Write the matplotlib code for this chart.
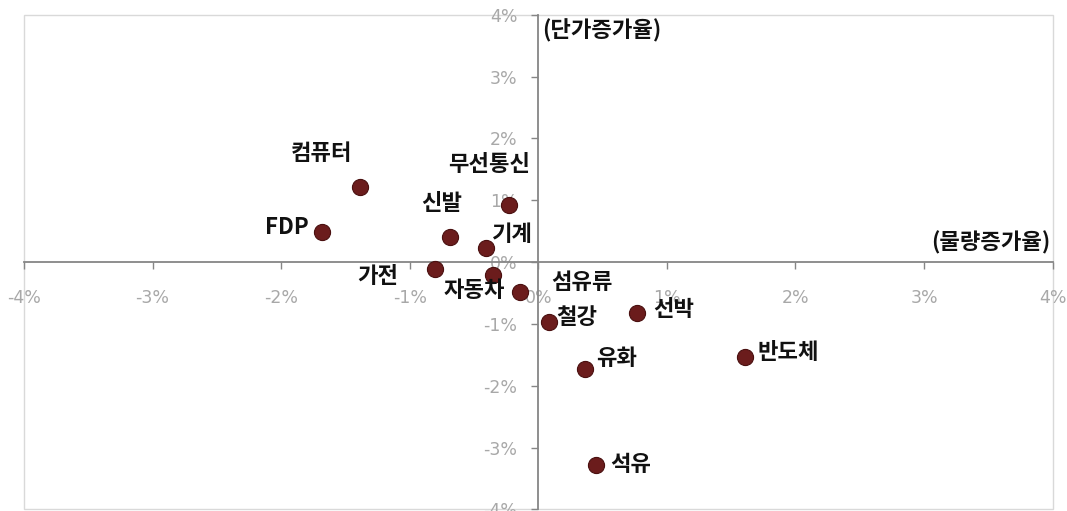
import matplotlib.pyplot as plt
from matplotlib.patches import Rectangle
from matplotlib.ticker import FuncFormatter

plt.rcParams['font.family'] = ['Noto Sans CJK KR', 'DejaVu Sans']

# 품목별 물량/단가 증가율 (%)
items = ['컴퓨터', 'FDP', '무선통신', '신발', '기계', '가전', '자동차',
         '섬유류', '철강', '선박', '유화', '반도체', '석유']
qty = [-1.385, -1.68, -0.23, -0.69, -0.41, -0.80, -0.35,
       -0.14, 0.08, 0.77, 0.36, 1.61, 0.45]
price = [1.21, 0.49, 0.93, 0.40, 0.23, -0.11, -0.20,
         -0.49, -0.97, -0.82, -1.73, -1.53, -3.28]

# 라벨 위치 (점 기준 픽셀 오프셋, 정렬)
offsets = {
    '컴퓨터': (-39, 34, 'center'),
    'FDP': (-14, 4, 'right'),
    '무선통신': (-20, 40, 'center'),
    '신발': (-8, 34, 'center'),
    '기계': (6, 13, 'left'),
    '가전': (-37, -8, 'right'),
    '자동차': (-19, -16, 'center'),
    '섬유류': (31, 10, 'left'),
    '철강': (8, 5, 'left'),
    '선박': (16, 3, 'left'),
    '유화': (12, 11, 'left'),
    '반도체': (12, 4, 'left'),
    '석유': (14, 0, 'left'),
}

fig = plt.figure(figsize=(10.67, 5.11), dpi=100)
ax = fig.add_axes([0.0225, 0.003, 0.964, 0.968])

ax.scatter(qty, price, s=135, color='#6b1c1c', edgecolor='#4a1010',
           linewidth=0.8, zorder=5, clip_on=False)

for name, x, y in zip(items, qty, price):
    dx, dy, ha = offsets[name]
    ax.annotate(name, (x, y), xytext=(dx, dy), textcoords='offset pixels',
                ha=ha, va='center', fontsize=16, fontweight='bold',
                color='#111111', zorder=6)

ax.set_xlim(-4, 4)
ax.set_ylim(-4, 4)
ax.set_xticks(range(-4, 5))
ax.set_yticks(range(-4, 5))
fmt = FuncFormatter(lambda v, p: '%d%%' % v)
ax.xaxis.set_major_formatter(fmt)
ax.yaxis.set_major_formatter(fmt)

ax.spines['left'].set_position(('data', 0))
ax.spines['bottom'].set_position(('data', 0))
ax.spines['top'].set_visible(False)
ax.spines['right'].set_visible(False)
for s in ['left', 'bottom']:
    ax.spines[s].set_color('#868686')
    ax.spines[s].set_linewidth(1.3)

ax.tick_params(axis='both', direction='out', length=5, width=1,
               color='#868686', labelcolor='#a8a8a8', labelsize=12.5)
ax.tick_params(axis='x', pad=14)
ax.tick_params(axis='y', pad=10)
for lab in ax.get_xticklabels() + ax.get_yticklabels():
    lab.set_family(['DejaVu Sans'])
    lab.set_zorder(1)

# 플롯 영역 테두리
ax.add_patch(Rectangle((0, 0), 1, 1, transform=ax.transAxes, fill=False,
                       edgecolor='#d9d9d9', linewidth=1, clip_on=False, zorder=0))

ax.text(0.03, 3.74, '(단가증가율)', ha='left', va='center', fontsize=16,
        fontweight='bold', color='#111111')
ax.text(3.98, 0.31, '(물량증가율)', ha='right', va='center', fontsize=16,
        fontweight='bold', color='#111111')

plt.savefig('out.png', dpi=100)
